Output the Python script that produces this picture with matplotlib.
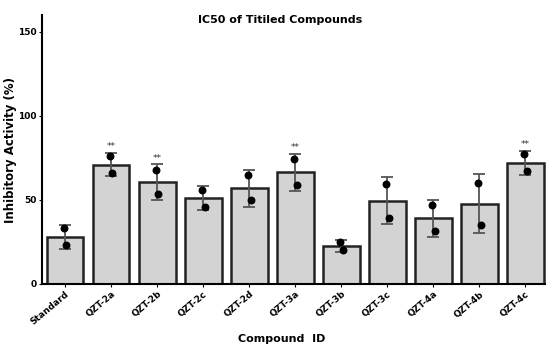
import numpy as np
import matplotlib.pyplot as plt

compounds = ["Standard", "QZT-2a", "QZT-2b", "QZT-2c", "QZT-2d", "QZT-3a",
             "QZT-3b", "QZT-3c", "QZT-4a", "QZT-4b", "QZT-4c"]
means = [28, 71, 60.7, 51, 57, 66.5, 22.6, 49.5, 39, 47.8, 72]
errors = [7, 7, 10.5, 7, 11, 11, 3.5, 14, 11, 17.5, 7]
rep1 = [33, 76, 68, 56, 65, 74, 25, 59.5, 47, 60, 77]
rep2 = [23, 66, 53.5, 46, 50, 59, 20, 39.5, 31.5, 35, 67]
stars = ["", "**", "**", "", "", "**", "", "", "", "", "**"]

x = np.arange(len(compounds))

fig = plt.figure(figsize=(5.46, 3.45), dpi=100)
ax = fig.add_axes([0.077, 0.177, 0.923, 0.78])

ax.bar(x, means, width=0.8, color="#d3d3d3", edgecolor="#222222", linewidth=1.8, zorder=1)
ax.errorbar(x, means, yerr=errors, fmt="none", ecolor="#555555", elinewidth=1.3,
            capsize=4, capthick=1.3, zorder=2)
# replicate points, slightly jittered
ax.scatter(x - 0.03, rep1, s=22, color="black", zorder=3)
ax.scatter(x + 0.03, rep2, s=22, color="black", zorder=3)

for i, s in enumerate(stars):
    if s:
        ax.text(x[i], means[i] + errors[i] + 1, s, ha="center", va="bottom",
                fontsize=6.5, color="#333333")

ax.set_xlim(-0.5, 10.45)
ax.set_ylim(0, 160)
ax.set_yticks([0, 50, 100, 150])
ax.set_xticks(x)
ax.set_xticklabels(compounds, rotation=40, ha="right", rotation_mode="anchor",
                   fontsize=6.5, fontweight="bold")
for lab in ax.get_yticklabels():
    lab.set_fontsize(6.5)
    lab.set_fontweight("bold")
ax.tick_params(axis="both", length=2.5, width=0.8, pad=1.5)

ax.spines["top"].set_visible(False)
ax.spines["right"].set_visible(False)
ax.spines["left"].set_linewidth(1.5)
ax.spines["bottom"].set_linewidth(1.5)

fig.text(0.513, 0.942, "IC50 of Titiled Compounds", fontsize=8, fontweight="semibold",
         ha="center", va="center")
fig.text(0.019, 0.565, "Inhibitory Activity (%)", fontsize=8.5, fontweight="bold",
         rotation=90, ha="center", va="center")
fig.text(0.515, 0.018, "Compound  ID", fontsize=8, fontweight="bold",
         ha="center", va="center")

fig.savefig("out.png", dpi=100)
